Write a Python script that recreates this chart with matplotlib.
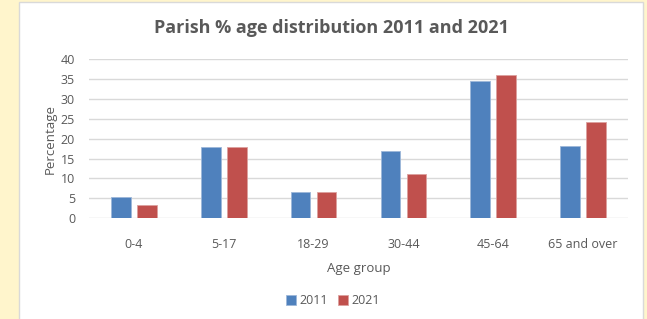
import numpy as np
import matplotlib
matplotlib.use("Agg")
from matplotlib import pyplot as plt
from matplotlib.patches import Rectangle

# Data
age_groups = ["0-4", "5-17", "18-29", "30-44", "45-64", "65 and over"]
pct_2011 = [5.3, 17.8, 6.6, 16.9, 34.5, 18.2]
pct_2021 = [3.4, 18.0, 6.6, 11.2, 36.1, 24.2]
series_labels = ["2011", "2021"]

blue = "#4F81BD"
red = "#C0504D"
text_col = "#595959"
grid_col = "#D9D9D9"

plt.rcParams["font.family"] = ["Open Sans", "DejaVu Sans"]

fig = plt.figure(figsize=(6.47, 3.19), dpi=100)
fig.patch.set_facecolor("#FFF5CC")

# White chart area with light border
fig.patches.append(Rectangle((19 / 647, -0.05), (643 - 19) / 647, 1.05 - 2 / 319,
                             transform=fig.transFigure, facecolor="white",
                             edgecolor="#D9D9D9", linewidth=1.0, zorder=0))

ax = fig.add_axes([89 / 647, 1 - 218.3 / 319, (628 - 89) / 647, (218.3 - 59) / 319])
ax.set_zorder(2)
ax.set_facecolor("none")

x = np.arange(len(age_groups))
w = 0.22
off = 0.145
ax.bar(x - off, pct_2011, w, color=blue, edgecolor="#9DB7D9", linewidth=0.6,
       label=series_labels[0], zorder=3)
ax.bar(x + off, pct_2021, w, color=red, edgecolor="#DCA09E", linewidth=0.6,
       label=series_labels[1], zorder=3)

ax.set_xlim(-0.5, len(age_groups) - 0.5)
ax.set_ylim(0, 40)
ax.set_yticks(range(0, 41, 5))
ax.set_xticks(x)
ax.set_xticklabels(age_groups)
ax.grid(axis="y", color=grid_col, linewidth=1.0, zorder=0)
for s in ax.spines.values():
    s.set_visible(False)
ax.tick_params(length=0, colors=text_col, labelsize=9)
ax.tick_params(axis="x", pad=14)
ax.tick_params(axis="y", pad=10)

ax.set_xlabel("Age group", color=text_col, fontsize=9.5, labelpad=8)
ax.set_ylabel("Percentage", color=text_col, fontsize=9.5, labelpad=3)

fig.text(332 / 647, 1 - 28 / 319, "Parish % age distribution 2011 and 2021",
         ha="center", va="center", fontsize=13, fontweight="bold", color=text_col)

leg = fig.legend(loc="center", bbox_to_anchor=(333 / 647, 1 - 301 / 319), ncol=2,
                 frameon=False, fontsize=9, handlelength=0.8, handleheight=0.8,
                 handletextpad=0.3, columnspacing=0.8, labelcolor=text_col)

fig.savefig("out.png", dpi=100, facecolor=fig.get_facecolor())
